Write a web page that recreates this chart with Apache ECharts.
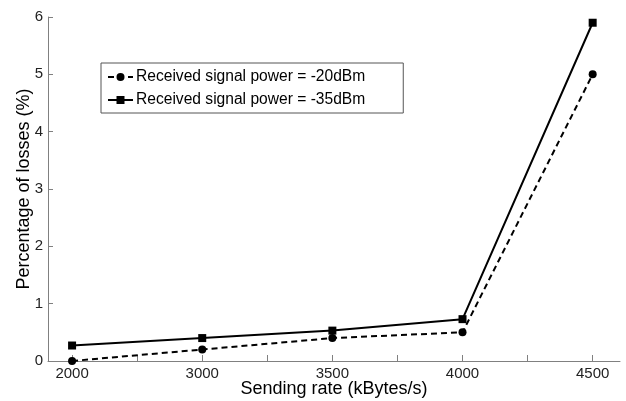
<!DOCTYPE html>
<html>
<head>
<meta charset="utf-8">
<script src="https://cdn.jsdelivr.net/npm/echarts@6/dist/echarts.min.js"></script>
<style>html,body{margin:0;padding:0;background:#fff}#c{width:626px;height:401px}</style>
</head>
<body>
<div id="c"></div>
<script>
const categories = ['2000', '3000', '3500', '4000', '4500'];
const lossMinus20 = [0, 0.2, 0.4, 0.5, 5.0];
const lossMinus35 = [0.27, 0.4, 0.53, 0.73, 5.9];
const yTicks = [0, 1, 2, 3, 4, 5, 6];
const seriesNames = ['Received signal power = -20dBm', 'Received signal power = -35dBm'];

const toPairs = arr => arr.map((v, i) => [i, v]);
const font = 'Liberation Sans, Arial, sans-serif';
const chart = echarts.init(document.getElementById('c'), null, {renderer: 'canvas'});
chart.setOption({
  backgroundColor: '#fff',
  animation: false,
  grid: {left: 48, right: 6, top: 17, bottom: 40, containLabel: false, outerBoundsMode: 'none'},
  legend: {
    left: 101, top: 63, orient: 'vertical',
    itemWidth: 25, itemHeight: 10, itemGap: 7,
    padding: [6, 38, 5, 6],
    borderColor: '#555', borderWidth: 1,
    textStyle: {fontFamily: font, fontSize: 15.6, color: '#000', padding: [0, 0, 0, -2]},
    data: seriesNames
  },
  xAxis: {
    type: 'value', min: -0.185, max: 4.21,
    name: 'Sending rate (kBytes/s)', nameLocation: 'middle', nameGap: 19, nameMoveOverlap: false,
    nameTextStyle: {fontFamily: font, fontSize: 18, color: '#000'},
    axisLine: {show: true, onZero: false, lineStyle: {color: '#808080', width: 1}},
    axisTick: {show: true, inside: true, length: 6, lineStyle: {color: '#808080'},
      customValues: [0, 0.5, 1, 1.5, 2, 2.5, 3, 3.5, 4]},
    axisLabel: {fontFamily: font, fontSize: 15, color: '#222', margin: 5,
      customValues: [0, 1, 2, 3, 4],
      formatter: v => categories[Math.round(v)]},
    splitLine: {show: false}
  },
  yAxis: {
    type: 'value', min: 0, max: 6, interval: 1,
    name: 'Percentage of losses (%)', nameLocation: 'middle', nameGap: 15, nameMoveOverlap: false,
    nameTextStyle: {fontFamily: font, fontSize: 18, color: '#000'},
    axisLine: {show: true, onZero: false, lineStyle: {color: '#808080', width: 1}},
    axisTick: {show: true, inside: true, length: 5, lineStyle: {color: '#808080'}},
    axisLabel: {fontFamily: font, fontSize: 15, color: '#222', margin: 5,
      formatter: v => yTicks.includes(v) ? String(v) : ''},
    splitLine: {show: false}
  },
  series: [
    {
      name: seriesNames[0], type: 'line', data: toPairs(lossMinus20),
      symbol: 'circle', symbolSize: 8, showSymbol: true,
      lineStyle: {color: '#000', width: 2, type: [6, 4]},
      itemStyle: {color: '#000'}, z: 3
    },
    {
      name: seriesNames[1], type: 'line', data: toPairs(lossMinus35),
      symbol: 'rect', symbolSize: 8, showSymbol: true,
      lineStyle: {color: '#000', width: 2, type: 'solid'},
      itemStyle: {color: '#000'}, z: 2
    }
  ]
});
</script>
</body>
</html>
